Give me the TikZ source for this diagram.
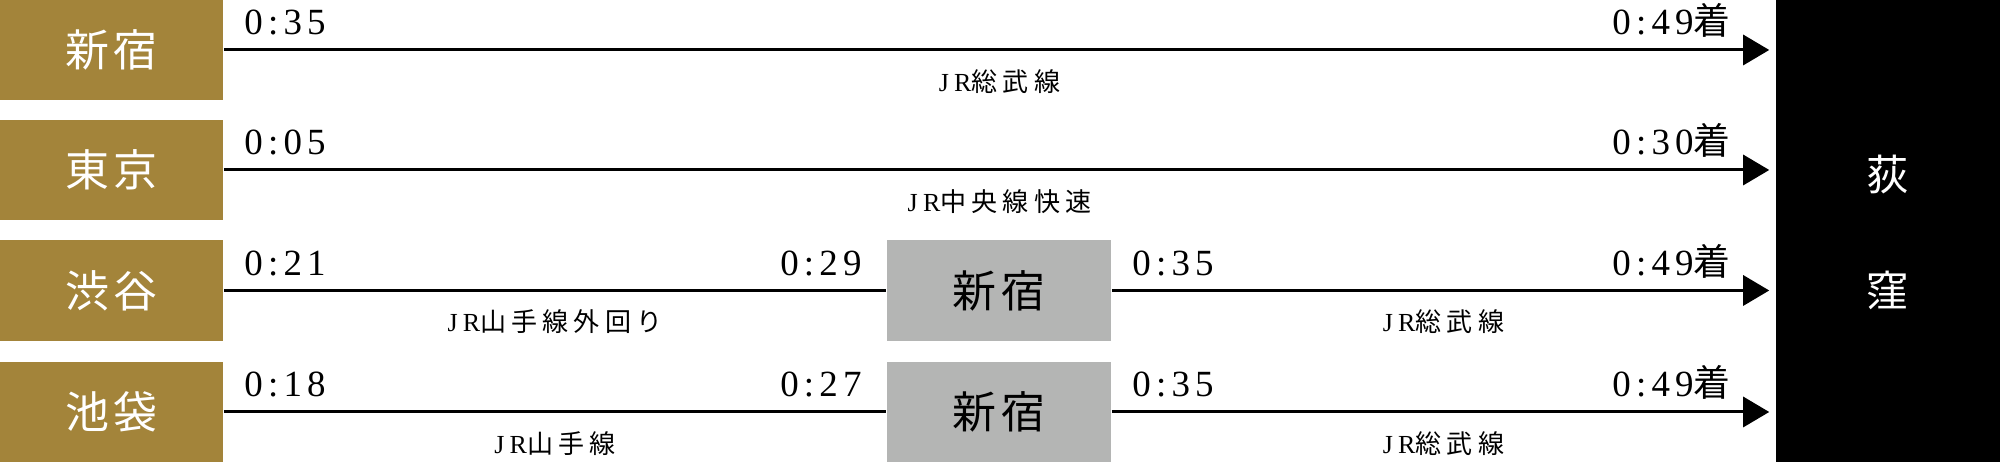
\documentclass[tikz,border=0pt]{standalone}
\usepackage{fontspec}
\setmainfont{Liberation Serif}
\newfontfamily\jp{Noto Sans CJK JP}
\usetikzlibrary{positioning,arrows.meta}

\definecolor{gold}{HTML}{A3843A}
\definecolor{xfergray}{HTML}{B4B5B4}

\newcommand\kan[1]{{\jp\addfontfeature{LetterSpace=20}#1}}

\tikzset{
	station/.style={fill=gold, text=white, minimum width=2.23cm, minimum height=1cm, inner sep=0,
		font=\jp\fontsize{12.5}{14}\selectfont\addfontfeature{LetterSpace=10}},
	xfer/.style={station, fill=xfergray, text=black, minimum width=2.24cm},
	goal/.style={fill=black, minimum width=2.24cm, minimum height=4.62cm, inner sep=0},
	goalname/.style={text=white, inner sep=0, font=\jp\fontsize{12}{14}\selectfont},
	time/.style={inner sep=0, font=\fontsize{10.5}{12}\selectfont\addfontfeature{LetterSpace=14}},
	linename/.style={inner sep=0, anchor=base, yshift=-0.41cm,
		font=\fontsize{7.4}{9}\selectfont\addfontfeature{LetterSpace=20}},
	track/.style={line width=0.03cm},
	route/.style={track, -{Triangle[length=0.26cm,width=0.30cm]}, shorten >=0.06cm}
}

\begin{document}
\begin{tikzpicture}[x=0.01cm, y=-0.01cm]
	\useasboundingbox (0,0) rectangle (2000,462);

	% departure stations
	\node[station] (shinjuku) at (111.5,50) {新宿};
	\node[station] (tokyo) at (111.5,170) {東京};
	\node[station] (shibuya) at (111.5,290.5) {渋谷};
	\node[station] (ikebukuro) at (111.5,412) {池袋};

	% change at shinjuku
	\node[xfer] (xfer3) at (999,290.5) {新宿};
	\node[xfer] (xfer4) at (999,412) {新宿};

	% arrival
	\node[goal] (ogikubo) at (1888,231) {};
	\node[goalname] (ogi) at (1888,175) {荻};
	\node[goalname] (kubo) at (1888,290) {窪};

	% routes
	\draw[route] (shinjuku.east) -- (shinjuku.east -| ogikubo.west)
		node[midway, linename] {JR\kan{総武線}};
	\draw[route] (tokyo.east) -- (tokyo.east -| ogikubo.west)
		node[midway, linename] {JR\kan{中央線快速}};
	\draw[track] (shibuya.east) -- (xfer3.west)
		node[midway, linename] {JR\kan{山手線外回り}};
	\draw[route] (xfer3.east) -- (xfer3.east -| ogikubo.west)
		node[midway, linename] {JR\kan{総武線}};
	\draw[track] (ikebukuro.east) -- (xfer4.west)
		node[midway, linename] {JR\kan{山手線}};
	\draw[route] (xfer4.east) -- (xfer4.east -| ogikubo.west)
		node[midway, linename] {JR\kan{総武線}};

	% times
	\node[time, anchor=base west] (dep1) at ([shift={(20,-15)}]shinjuku.east) {0:35};
	\node[time, anchor=base east] (arr1) at ([shift={(-44,-15)}]shinjuku.east -| ogikubo.west) {0:49{\jp 着}};
	\node[time, anchor=base west] (dep2) at ([shift={(20,-15)}]tokyo.east) {0:05};
	\node[time, anchor=base east] (arr2) at ([shift={(-44,-15)}]tokyo.east -| ogikubo.west) {0:30{\jp 着}};

	\node[time, anchor=base west] (dep3) at ([shift={(20,-15)}]shibuya.east) {0:21};
	\node[time, anchor=base east] (chg3) at ([shift={(-24,-15)}]xfer3.west) {0:29};
	\node[time, anchor=base west] (dep3b) at ([shift={(20,-15)}]xfer3.east) {0:35};
	\node[time, anchor=base east] (arr3) at ([shift={(-44,-15)}]xfer3.east -| ogikubo.west) {0:49{\jp 着}};

	\node[time, anchor=base west] (dep4) at ([shift={(20,-15)}]ikebukuro.east) {0:18};
	\node[time, anchor=base east] (chg4) at ([shift={(-24,-15)}]xfer4.west) {0:27};
	\node[time, anchor=base west] (dep4b) at ([shift={(20,-15)}]xfer4.east) {0:35};
	\node[time, anchor=base east] (arr4) at ([shift={(-44,-15)}]xfer4.east -| ogikubo.west) {0:49{\jp 着}};
\end{tikzpicture}
\end{document}
